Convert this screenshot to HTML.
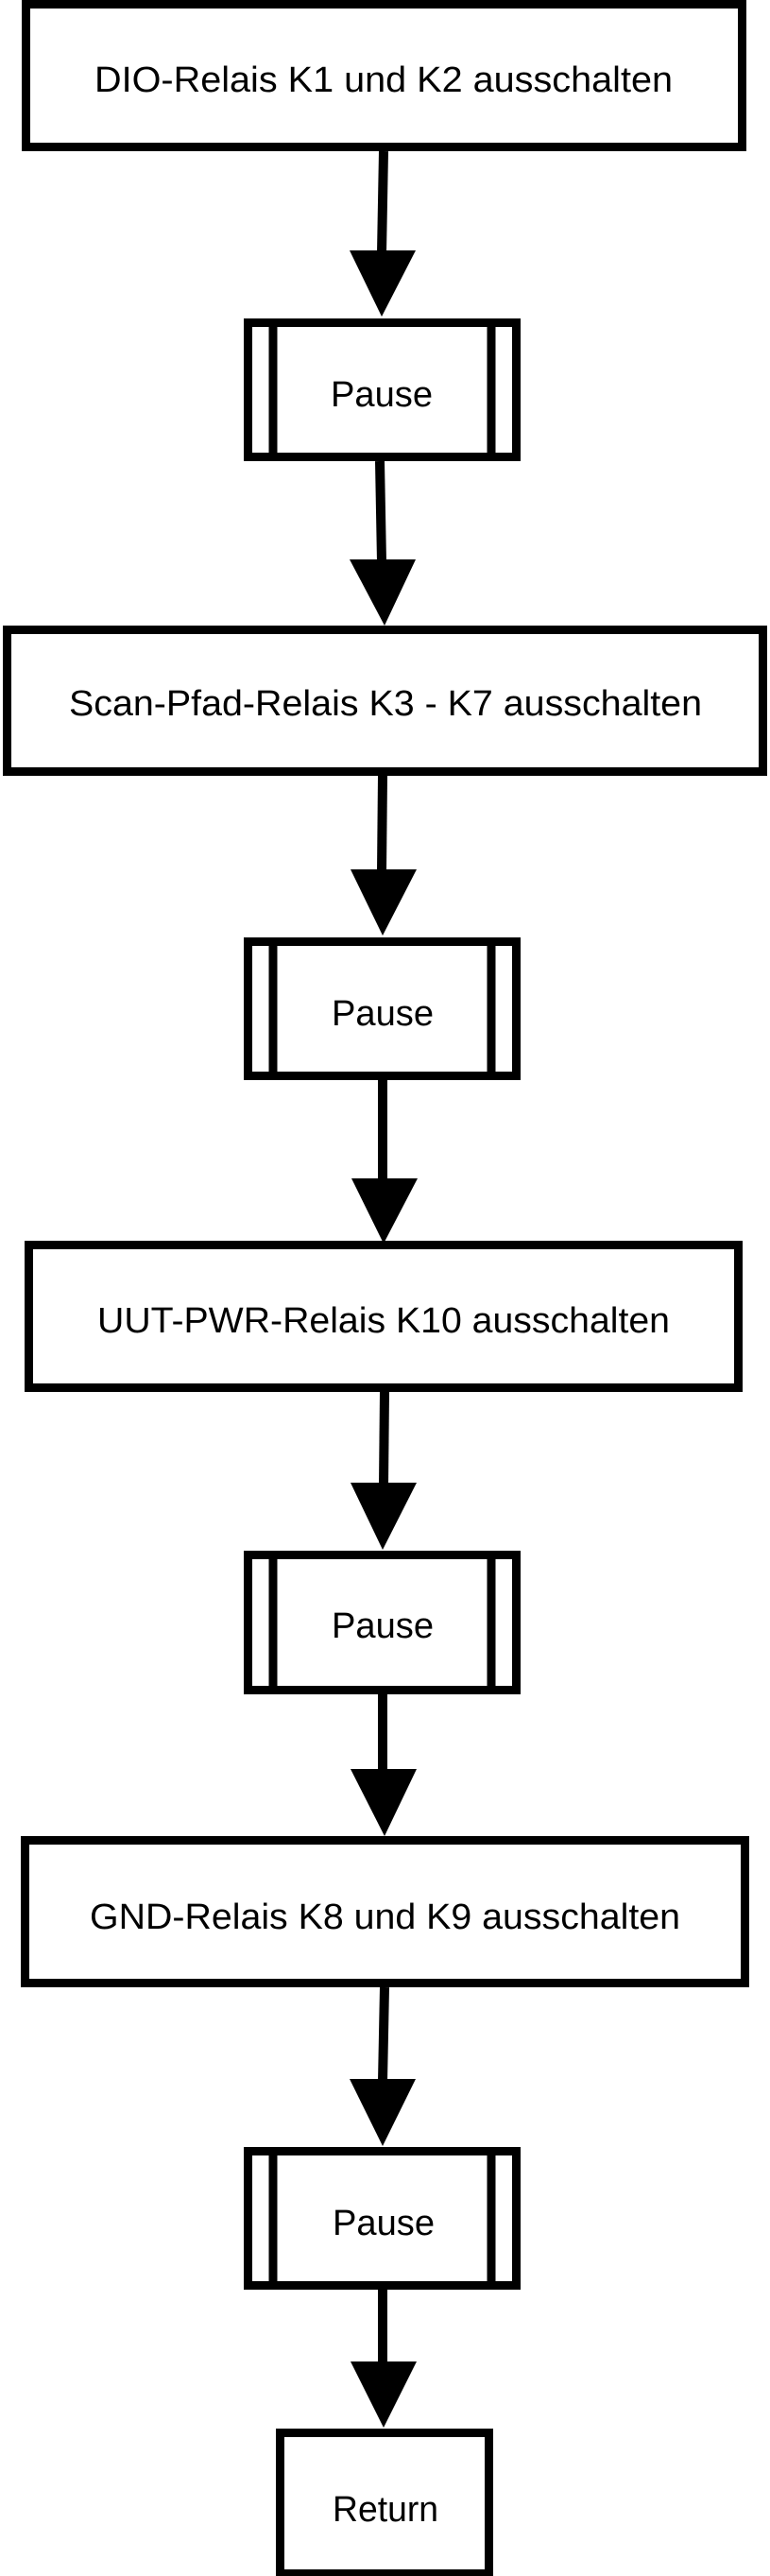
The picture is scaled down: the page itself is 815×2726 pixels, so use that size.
<!DOCTYPE html>
<html><head><meta charset="utf-8"><style>
html,body{margin:0;padding:0;background:#fff;width:815px;height:2726px;overflow:hidden}
svg{display:block}
text{font-family:"Liberation Sans",Arial,sans-serif;font-size:38px;fill:#000}
</style></head><body>
<svg width="815" height="2726" viewBox="0 0 815 2726" xmlns="http://www.w3.org/2000/svg">
<g fill="#fff" stroke="#000" stroke-width="9">
<rect x="27.5" y="4.5" width="758" height="151"/>
<rect x="262.5" y="341.5" width="284" height="142"/>
<rect x="7.5" y="666.5" width="800" height="150"/>
<rect x="262.5" y="996.5" width="284" height="142"/>
<rect x="30.5" y="1317.5" width="751" height="151"/>
<rect x="262.5" y="1645.5" width="284" height="143"/>
<rect x="26.5" y="1947.5" width="762" height="151"/>
<rect x="262.5" y="2276.5" width="284" height="142"/>
<rect x="296.5" y="2574.5" width="221" height="149"/>
</g>
<g stroke="#000" stroke-width="9">
<line x1="289" y1="341" x2="289" y2="484"/><line x1="520" y1="341" x2="520" y2="484"/>
<line x1="289" y1="996" x2="289" y2="1139"/><line x1="520" y1="996" x2="520" y2="1139"/>
<line x1="289" y1="1645" x2="289" y2="1789"/><line x1="520" y1="1645" x2="520" y2="1789"/>
<line x1="289" y1="2276" x2="289" y2="2419"/><line x1="520" y1="2276" x2="520" y2="2419"/>
</g>
<g stroke="#000" stroke-width="10">
<line x1="406" y1="160" x2="404" y2="268"/>
<line x1="402" y1="488" x2="404" y2="595"/>
<line x1="405" y1="821" x2="404" y2="923"/>
<line x1="405" y1="1143" x2="405" y2="1250"/>
<line x1="407" y1="1473" x2="406" y2="1572"/>
<line x1="405" y1="1793" x2="405" y2="1875"/>
<line x1="407" y1="2103" x2="405" y2="2203"/>
<line x1="405" y1="2423" x2="405" y2="2500"/>
</g>
<g fill="#000">
<polygon points="370,265 440,265 404,335"/>
<polygon points="370,592 440,592 407,662"/>
<polygon points="371,920 441,920 405,990"/>
<polygon points="372,1247 442,1247 406,1316"/>
<polygon points="371,1569 441,1569 405,1640"/>
<polygon points="371,1872 441,1872 407,1943"/>
<polygon points="370,2200 440,2200 405,2271"/>
<polygon points="371,2499 441,2499 406,2569"/>
</g>
<text x="100" y="97" textLength="612" lengthAdjust="spacingAndGlyphs">DIO-Relais K1 und K2 ausschalten</text>
<text x="350" y="430" textLength="108" lengthAdjust="spacingAndGlyphs">Pause</text>
<text x="73" y="757" textLength="670" lengthAdjust="spacingAndGlyphs">Scan-Pfad-Relais K3 - K7 ausschalten</text>
<text x="351" y="1085" textLength="108" lengthAdjust="spacingAndGlyphs">Pause</text>
<text x="103" y="1410" textLength="606" lengthAdjust="spacingAndGlyphs">UUT-PWR-Relais K10 ausschalten</text>
<text x="351" y="1733" textLength="108" lengthAdjust="spacingAndGlyphs">Pause</text>
<text x="95" y="2041" textLength="625" lengthAdjust="spacingAndGlyphs">GND-Relais K8 und K9 ausschalten</text>
<text x="352" y="2365" textLength="108" lengthAdjust="spacingAndGlyphs">Pause</text>
<text x="352" y="2668" textLength="112" lengthAdjust="spacingAndGlyphs">Return</text>
</svg>
</body></html>
